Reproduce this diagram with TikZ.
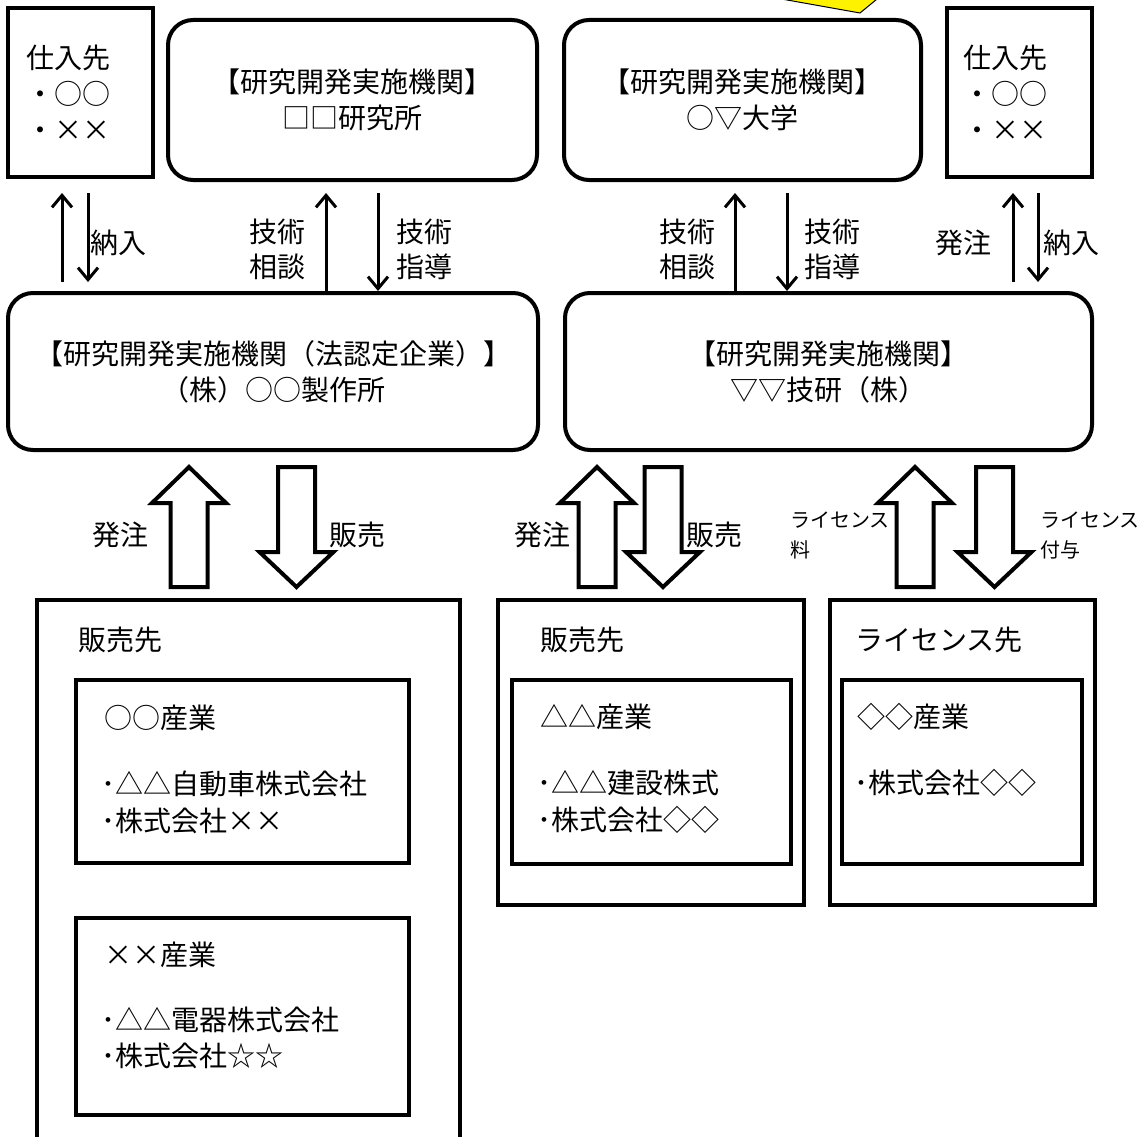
\documentclass[tikz,border=0pt]{standalone}
\usepackage{fontspec}
\setmainfont{Noto Sans CJK JP}
\usetikzlibrary{arrows.meta}
\newcommand\fsz[2]{\fontsize{#1}{#2}\selectfont}
\tikzset{
  sqbox/.style={draw, line width=4pt, rectangle, inner sep=0pt, line join=miter},
  rbox/.style={draw, line width=4pt, rectangle, rounded corners=25pt, align=center, inner sep=0pt},
  lbl/.style={inner sep=0pt, align=center, font=\fsz{28}{35}},
  smalllbl/.style={inner sep=0pt, align=left, anchor=west, font=\fsz{20}{30}},
  txt/.style={inner sep=0pt, anchor=west},
  arr/.style={line width=3pt, -{Straight Barb[length=12pt,width=20pt]}},
  blk/.style={draw, line width=4pt, fill=white, line join=miter},
  uparr/.pic={\draw[blk] (0,0) -- (37,36) -- (18.5,36) -- (18.5,120) -- (-18.5,120) -- (-18.5,36) -- (-37,36) -- cycle;},
  downarr/.pic={\draw[blk] (-18.5,0) -- (18.5,0) -- (18.5,85) -- (37,85) -- (0,120) -- (-37,85) -- (-18.5,85) -- cycle;}
}
\begin{document}
\begin{tikzpicture}[x=1pt,y=-1pt,font=\fsz{28}{36}]
\useasboundingbox (0,0) rectangle (1143,1137);
\clip (0,0) rectangle (1143,1137);
\fill[white] (0,0) rectangle (1143,1137);

% yellow shape at top
\filldraw[fill=yellow, draw=black, line width=1pt] (731,-10) -- (860,13) -- (888,-10) -- cycle;

% top row
\node[sqbox, minimum width=145pt, minimum height=169pt, text width=109pt, inner xsep=18pt, align=left] (sup1) at (80.5,92.5) {仕入先\\・○○\\・××};
\node[rbox, minimum width=369pt, minimum height=160pt] (lab1) at (352.5,100) {【研究開発実施機関】\\□□研究所};
\node[rbox, minimum width=357pt, minimum height=160pt] (lab2) at (742.5,100) {【研究開発実施機関】\\○▽大学};
\node[sqbox, minimum width=145pt, minimum height=169pt, text width=113pt, inner xsep=16pt, align=left] (sup2) at (1019.5,92.5) {仕入先\\・○○\\・××};

% middle row
\node[rbox, minimum width=530pt, minimum height=157pt] (mid1) at (273,371.5) {【研究開発実施機関（法認定企業）】\\（株）○○製作所};
\node[rbox, minimum width=527pt, minimum height=157pt] (mid2) at (828.5,371.5) {【研究開発実施機関】\\▽▽技研（株）};

% thin arrows
\coordinate (s1a) at (62,282); \coordinate (s1b) at (62,193);
\coordinate (s1c) at (88,193); \coordinate (s1d) at (88,282);
\draw[arr] (s1a) -- (s1b);
\draw[arr] (s1c) -- (s1d);
\coordinate (t1) at (326,193); \coordinate (t2) at (378,193);
\coordinate (t3) at (735,193); \coordinate (t4) at (787,193);
\draw[arr] (mid1.north -| t1) -- (t1);
\draw[arr] (t2) -- (mid1.north -| t2);
\draw[arr] (mid2.north -| t3) -- (t3);
\draw[arr] (t4) -- (mid2.north -| t4);
\coordinate (s2a) at (1013,282); \coordinate (s2b) at (1013,193);
\coordinate (s2c) at (1038,193); \coordinate (s2d) at (1038,282);
\draw[arr] (s2a) -- (s2b);
\draw[arr] (s2c) -- (s2d);

\node[lbl] (l1) at (118,243) {納入};
\node[lbl] (l2) at (277,249.5) {技術\\相談};
\node[lbl] (l3) at (424,249.5) {技術\\指導};
\node[lbl] (l4) at (687,249.5) {技術\\相談};
\node[lbl] (l5) at (832,249.5) {技術\\指導};
\node[lbl] (l6) at (963,243) {発注};
\node[lbl] (l7) at (1071,243) {納入};

% block arrows
\pic at (189,467) {uparr};
\pic at (296.5,467) {downarr};
\pic at (597,467) {uparr};
\pic at (663,467) {downarr};
\pic at (915,467) {uparr};
\pic at (994.5,467) {downarr};

\node[lbl] (b1) at (120,535) {発注};
\node[lbl] (b2) at (357,535) {販売};
\node[lbl] (b3) at (542,535) {発注};
\node[lbl] (b4) at (714,535) {販売};
\node[smalllbl] (b5) at (790,535) {ライセンス\\料};
\node[smalllbl] (b6) at (1040,535) {ライセンス\\付与};

% bottom boxes
\node[sqbox, anchor=north west, minimum width=423pt, minimum height=560pt] (sales1) at (35,598) {};
\node[sqbox, anchor=north west, minimum width=333pt, minimum height=183pt] (ind1) at (74,678) {};
\node[sqbox, anchor=north west, minimum width=333pt, minimum height=197pt] (ind2) at (74,916) {};
\node[sqbox, anchor=north west, minimum width=306pt, minimum height=305pt] (sales2) at (496,598) {};
\node[sqbox, anchor=north west, minimum width=279pt, minimum height=184pt] (ind3) at (510,678) {};
\node[sqbox, anchor=north west, minimum width=265pt, minimum height=305pt] (lic) at (828,598) {};
\node[sqbox, anchor=north west, minimum width=240pt, minimum height=184pt] (ind4) at (840,678) {};

\node[txt] (x1) at (78,640) {販売先};
\node[txt] (x2) at (104,718) {○○産業};
\node[txt] (x3) at (101,784) {･△△自動車株式会社};
\node[txt] (x4) at (101,821) {･株式会社××};
\node[txt] (x5) at (104,955) {××産業};
\node[txt] (x6) at (101,1020) {･△△電器株式会社};
\node[txt] (x7) at (101,1056) {･株式会社☆☆};

\node[txt] (y1) at (540,640) {販売先};
\node[txt] (y2) at (540,717) {△△産業};
\node[txt] (y3) at (537,783) {･△△建設株式};
\node[txt] (y4) at (537,820) {･株式会社◇◇};

\node[txt] (z1) at (855,640) {ライセンス先};
\node[txt] (z2) at (857,717) {◇◇産業};
\node[txt] (z3) at (854,783) {･株式会社◇◇};
\end{tikzpicture}
\end{document}
